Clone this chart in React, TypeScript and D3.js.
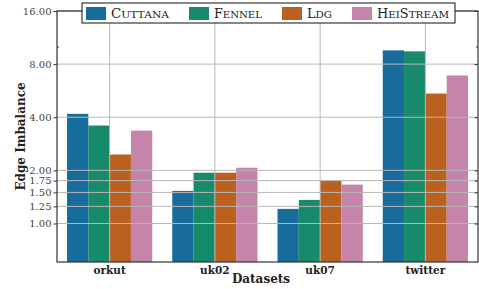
import React, { useEffect, useRef } from 'react';
import * as d3 from 'd3';

const datasets = ['orkut', 'uk02', 'uk07', 'twitter'];
const methods = ['Cuttana', 'Fennel', 'Ldg', 'HeiStream'];
const colors = ['#186c9c', '#168a6a', '#bb6120', '#c584a9'];
const cuttana = [4.18, 1.53, 1.21, 9.57];
const fennel = [3.59, 1.94, 1.36, 9.45];
const ldg = [2.46, 1.94, 1.75, 5.45];
const heistream = [3.36, 2.07, 1.66, 6.9];
const yTicks = [1.0, 1.25, 1.5, 1.75, 2.0, 4.0, 8.0, 16.0];
const minorTicks = [10];

const App = () => {
  const ref = useRef<SVGSVGElement>(null);

  useEffect(() => {
    const svg = d3.select(ref.current);
    svg.selectAll('*').remove();

    const width = 479;
    const height = 289;
    const margin = { top: 11, right: 1, bottom: 27, left: 57 };
    const innerW = width - margin.left - margin.right;
    const innerH = height - margin.top - margin.bottom;
    const font = 'DejaVu Serif, Liberation Serif, serif';

    const series = [cuttana, fennel, ldg, heistream];

    const x = d3.scaleBand().domain(datasets).range([0, innerW]).paddingInner(0.19).paddingOuter(0.095);
    const xs = d3.scaleBand().domain(methods).range([0, x.bandwidth()]);
    const y = d3.scaleLog().base(2).domain([0.605, 16]).range([innerH, 0]);

    const g = svg.append('g').attr('transform', `translate(${margin.left},${margin.top})`);

    // Bars
    datasets.forEach((ds, i) => {
      methods.forEach((m, j) => {
        const v = series[j][i];
        g.append('rect')
          .attr('x', x(ds)! + xs(m)!)
          .attr('y', y(v))
          .attr('width', xs.bandwidth())
          .attr('height', innerH - y(v))
          .attr('fill', colors[j]);
      });
    });

    // Grid over the bars
    const centers = datasets.map(d => x(d)! + x.bandwidth() / 2);
    g.append('g').selectAll('line')
      .data(centers).enter()
      .append('line')
      .attr('x1', d => d).attr('x2', d => d)
      .attr('y1', 0).attr('y2', innerH)
      .attr('stroke', '#b8b8b8').attr('stroke-width', 1);
    g.append('g').selectAll('line')
      .data(yTicks).enter()
      .append('line')
      .attr('x1', 0).attr('x2', innerW)
      .attr('y1', d => y(d)).attr('y2', d => y(d))
      .attr('stroke', '#b8b8b8').attr('stroke-width', 1);

    // Frame
    g.append('rect')
      .attr('x', 0).attr('y', 0)
      .attr('width', innerW).attr('height', innerH)
      .attr('fill', 'none').attr('stroke', '#333').attr('stroke-width', 1.2);

    // Y ticks left and right
    const yAxis = g.append('g')
      .call(d3.axisLeft(y).tickValues(yTicks).tickFormat(d3.format('.2f')).tickSize(3.5).tickPadding(2));
    yAxis.select('.domain').remove();
    yAxis.selectAll('text').attr('font-family', font).attr('font-size', 10).attr('fill', '#444');
    yAxis.selectAll('line').attr('stroke', '#333');

    const yRight = g.append('g').attr('transform', `translate(${innerW},0)`)
      .call(d3.axisLeft(y).tickValues(yTicks).tickFormat(() => '').tickSize(3.5));
    yRight.select('.domain').remove();
    yRight.selectAll('line').attr('stroke', '#333');

    [0, innerW].forEach(px => {
      g.append('g').selectAll('line')
        .data(minorTicks).enter()
        .append('line')
        .attr('x1', px).attr('x2', px === 0 ? 2 : px - 2)
        .attr('y1', d => y(d)).attr('y2', d => y(d))
        .attr('stroke', '#333');
    });

    // X axis
    const xAxis = g.append('g').attr('transform', `translate(0,${innerH})`)
      .call(d3.axisBottom(x).tickSize(0).tickPadding(5));
    xAxis.select('.domain').remove();
    xAxis.selectAll('text')
      .attr('font-family', font).attr('font-size', 10.5)
      .attr('font-weight', 'bold').attr('fill', '#222');

    // Axis labels
    svg.append('text')
      .attr('x', 261).attr('y', 283)
      .attr('text-anchor', 'middle')
      .attr('font-family', font).attr('font-size', 12).attr('font-weight', 'bold')
      .attr('fill', '#222')
      .text('Datasets');
    svg.append('text')
      .attr('transform', `translate(25,${margin.top + innerH / 2}) rotate(-90)`)
      .attr('text-anchor', 'middle')
      .attr('font-family', font).attr('font-size', 12).attr('font-weight', 'bold')
      .attr('fill', '#222')
      .text('Edge Imbalance');

    // Legend
    const legend = svg.append('g');
    legend.append('rect')
      .attr('x', 82).attr('y', 3).attr('width', 373).attr('height', 20)
      .attr('fill', 'white').attr('stroke', '#111').attr('stroke-width', 1);
    const offsets = [86, 189, 282, 352];
    const textWidths = [58, 48, 25, 72];
    methods.forEach((m, j) => {
      const lx = offsets[j];
      legend.append('rect')
        .attr('x', lx).attr('y', 7).attr('width', 20).attr('height', 13)
        .attr('fill', colors[j]);
      const t = legend.append('text')
        .attr('x', lx + 25).attr('y', 17.5)
        .attr('font-family', font)
        .attr('fill', '#222')
        .attr('textLength', textWidths[j])
        .attr('lengthAdjust', 'spacingAndGlyphs');
      // manual small caps
      m.split('').forEach(ch => {
        const upper = ch === ch.toUpperCase();
        t.append('tspan')
          .attr('font-size', upper ? 12.5 : 10)
          .text(ch.toUpperCase());
      });
    });
  }, []);

  return (
    <svg ref={ref} width={479} height={289} style={{ display: 'block', position: 'absolute', left: 0, top: 0 }} />
  );
};

export default App;
